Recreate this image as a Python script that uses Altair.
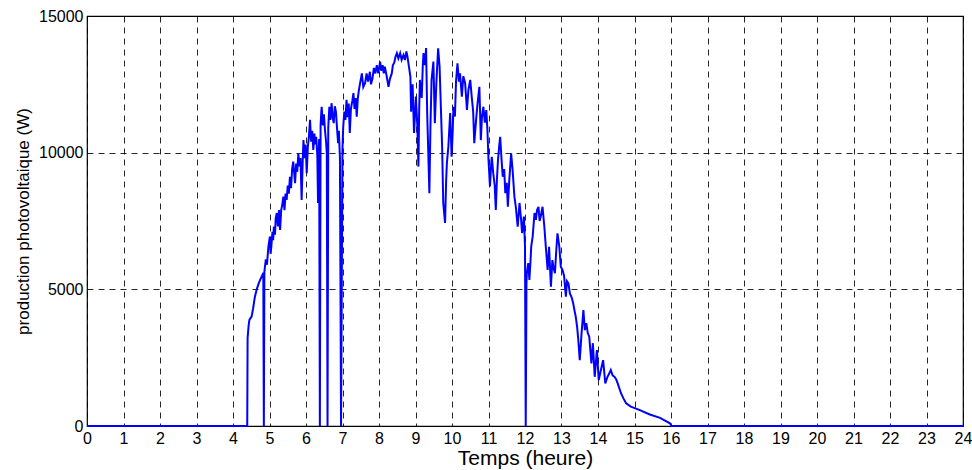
import altair as alt
import pandas as pd

hours = [
    0.00, 4.39, 4.40, 4.43, 4.45, 4.48, 4.51, 4.55, 4.60, 4.65, 4.70, 4.74, 4.78, 4.83, 4.845,
    4.86, 4.90, 4.93, 4.97, 5.01, 5.03, 5.05, 5.08, 5.10, 5.12, 5.15, 5.17, 5.20, 5.23, 5.26,
    5.29, 5.32, 5.35, 5.38, 5.41, 5.44, 5.47, 5.50, 5.53, 5.56, 5.59, 5.62, 5.65, 5.68, 5.70,
    5.73, 5.76, 5.79, 5.82, 5.85, 5.88, 5.91, 5.93, 5.96, 5.99, 6.02, 6.05, 6.08, 6.11, 6.14,
    6.17, 6.20, 6.23, 6.25, 6.28, 6.31, 6.33, 6.35, 6.36, 6.38, 6.40, 6.42, 6.43, 6.46, 6.49,
    6.52, 6.55, 6.57, 6.59, 6.61, 6.62, 6.64, 6.67, 6.70, 6.73, 6.76, 6.79, 6.82, 6.85, 6.88,
    6.90, 6.93, 6.96, 7.00, 7.02, 7.05, 7.08, 7.11, 7.14, 7.17, 7.20, 7.23, 7.27, 7.30, 7.33,
    7.36, 7.39, 7.42, 7.45, 7.49, 7.53, 7.57, 7.62, 7.66, 7.70, 7.75, 7.78, 7.82, 7.86, 7.90,
    7.94, 7.98, 8.03, 8.06, 8.10, 8.13, 8.16, 8.21, 8.26, 8.30, 8.35, 8.38, 8.42, 8.45, 8.49,
    8.53, 8.58, 8.62, 8.67, 8.71, 8.75, 8.78, 8.82, 8.86, 8.88, 8.92, 8.96, 9.01, 9.05, 9.08,
    9.10, 9.12, 9.17, 9.20, 9.22, 9.26, 9.29, 9.32, 9.35, 9.38, 9.41, 9.44, 9.49, 9.53, 9.57,
    9.60, 9.62, 9.66, 9.70, 9.73, 9.76, 9.81, 9.84, 9.86, 9.90, 9.95, 9.99, 10.02, 10.04, 10.08,
    10.11, 10.15, 10.19, 10.22, 10.27, 10.31, 10.36, 10.41, 10.45, 10.50, 10.54, 10.58, 10.61, 10.66, 10.70,
    10.75, 10.79, 10.82, 10.86, 10.90, 10.94, 10.97, 11.00, 11.04, 11.07, 11.09, 11.13, 11.17, 11.20, 11.23,
    11.26, 11.29, 11.32, 11.36, 11.39, 11.43, 11.46, 11.50, 11.53, 11.57, 11.62, 11.66, 11.71, 11.75, 11.80,
    11.85, 11.89, 11.92, 11.97, 12.00, 12.02, 12.04, 12.05, 12.09, 12.12, 12.15, 12.17, 12.21, 12.26, 12.30,
    12.33, 12.37, 12.40, 12.43, 12.48, 12.53, 12.57, 12.62, 12.66, 12.71, 12.75, 12.78, 12.82, 12.86, 12.89,
    12.94, 12.98, 13.03, 13.07, 13.12, 13.15, 13.19, 13.23, 13.28, 13.32, 13.36, 13.39, 13.43, 13.46, 13.50,
    13.55, 13.60, 13.64, 13.68, 13.72, 13.76, 13.82, 13.86, 13.91, 13.97, 14.02, 14.08, 14.14, 14.20, 14.26,
    14.30, 14.35, 14.40, 14.45, 14.50, 14.54, 14.63, 14.70, 14.77, 14.90, 15.13, 15.42, 15.70, 15.97, 16.02,
    24.00,
]
watts = [
    0, 0, 3220, 3700, 3880, 3950, 4000, 4300, 4730, 5000, 5200, 5340, 5450, 5600, 0,
    5650, 6100, 5900, 6560, 6930, 6300, 6560, 7100, 6800, 7300, 7000, 7600, 7790, 7300, 7900,
    7170, 7900, 8100, 8390, 7900, 8500, 8270, 8800, 8500, 9120, 8700, 9400, 9670, 9200, 8880,
    9600, 9300, 9980, 9500, 9800, 8270, 9700, 10460, 9800, 10300, 9250, 10200, 10600, 11200, 10400,
    10800, 10100, 10700, 10300, 10580, 9900, 8160, 10000, 10500, 0, 11000, 11500, 11680, 11000, 11400,
    10830, 10400, 9980, 0, 10900, 11200, 11680, 11200, 11810, 11300, 11080, 11700, 11500, 10900, 10350,
    10800, 9800, 0, 10200, 10950, 11500, 11200, 11930, 11300, 11800, 10720, 11600, 11900, 12180, 11600,
    12000, 11320, 12000, 12300, 12600, 12900, 12400, 12550, 12900, 12600, 12960, 12500, 12700, 13100, 12900,
    13200, 12900, 13330, 13000, 13200, 12900, 13150, 12800, 12410, 12700, 12900, 13200, 13300, 13500, 13640,
    13450, 13640, 13400, 13570, 13390, 13700, 13510, 13150, 12780, 11500, 12500, 10720, 12050, 11000, 9490,
    11500, 12660, 12000, 13200, 13640, 13200, 13830, 11450, 10000, 8520, 11000, 12660, 13330, 11080, 12500,
    13300, 13820, 13150, 11450, 10200, 8160, 7430, 9000, 9620, 10220, 11450, 9850, 10800, 11680, 11320,
    12600, 13270, 12600, 12900, 12050, 12800, 12540, 11560, 12300, 12660, 12050, 11500, 10350, 11200, 11800,
    12410, 10460, 11300, 11680, 11100, 11560, 10830, 9730, 8760, 9500, 9850, 9250, 8800, 7900, 9000,
    9730, 10200, 10580, 9700, 9120, 9400, 8520, 8900, 8020, 9000, 9980, 9370, 8390, 8000, 7290,
    8160, 7600, 7060, 7660, 6560, 0, 5200, 5590, 5960, 5340, 6000, 6560, 6930, 7790, 7540,
    7900, 8020, 7500, 7660, 8020, 7290, 6560, 5710, 6560, 5100, 6070, 5800, 5590, 6500, 7050,
    6560, 5830, 5700, 5500, 4730, 5300, 5220, 4850, 4700, 4490, 4200, 4000, 3600, 3150, 2410,
    3400, 4240, 3510, 3760, 3400, 3270, 2290, 3030, 1800, 2780, 1680, 2050, 2410, 1560, 1800,
    1900, 2050, 1850, 1800, 1700, 1560, 1200, 1000, 830, 710, 590, 420, 300, 100, 0,
    0,
]

x_ticks = list(range(0, 25))
y_ticks = [0, 5000, 10000, 15000]

df = pd.DataFrame({"h": hours, "w": watts})

FONT = "Liberation Sans"

chart = (
    alt.Chart(df)
    .mark_line(color="#0000ff", strokeWidth=2, clip=False)
    .encode(
        x=alt.X(
            "h:Q",
            scale=alt.Scale(domain=[0, 24], nice=False, zero=False),
            axis=alt.Axis(
                values=x_ticks, title="Temps (heure)", format="d",
                labelFlush=False, labelPadding=4, titlePadding=1,
                titleFontSize=21, labelFontSize=16,
            ),
        ),
        y=alt.Y(
            "w:Q",
            scale=alt.Scale(domain=[0, 15000], nice=False),
            axis=alt.Axis(
                values=y_ticks, title="production photovoltaique (W)", format="d",
                labelFlush=False, labelPadding=4, titlePadding=6,
                titleFontSize=17, labelFontSize=16,
            ),
        ),
        order="h:Q",
    )
    .properties(
        width=876,
        height=410,
        autosize=alt.AutoSizeParams(type="none"),
        padding={"left": 87, "top": 16, "right": 9, "bottom": 44},
    )
    .configure_view(stroke="black", strokeWidth=1.2)
    .configure_axis(
        domain=False,
        ticks=False,
        grid=True,
        gridColor="#000000",
        gridDash=[6, 5],
        gridWidth=1,
        gridOpacity=0.85,
        labelFont=FONT,
        titleFont=FONT,
        labelColor="black",
        titleColor="black",
        titleFontWeight="normal",
    )
)

chart.save("out.html", embed_options={"renderer": "svg", "actions": False})
